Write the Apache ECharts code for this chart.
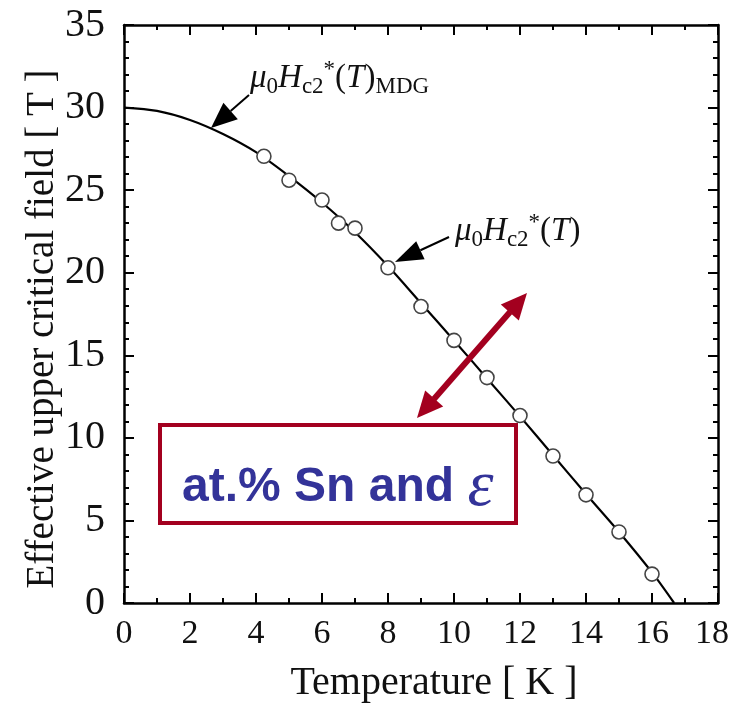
<!DOCTYPE html>
<html>
<head>
<meta charset="utf-8">
<script src="https://cdn.jsdelivr.net/npm/echarts@6/dist/echarts.min.js"></script>
<style>html,body{margin:0;padding:0;background:#fff}#c{width:740px;height:715px}</style>
</head>
<body>
<div id="c"></div>
<script>
// ---- data ----
var curveT = [0, 1, 2, 3, 4, 5, 6, 7, 8, 9, 10, 11, 12, 13, 14, 15, 16, 16.67];
var curveB = [30.0, 29.8, 29.25, 28.4, 27.3, 25.85, 24.25, 22.45, 20.4, 18.15, 15.9, 13.6, 11.3, 8.95, 6.6, 4.3, 1.85, 0];
var pointT = [4.24, 5.0, 6.0, 6.5, 7.0, 8.0, 9.0, 10.0, 11.0, 12.0, 13.0, 14.0, 15.0, 16.0];
var pointB = [27.05, 25.6, 24.4, 23.0, 22.7, 20.3, 17.95, 15.9, 13.65, 11.35, 8.9, 6.55, 4.3, 1.75];
var xTicks = [0, 2, 4, 6, 8, 10, 12, 14, 16, 18];
var yTicks = [0, 5, 10, 15, 20, 25, 30, 35];
var xTitle = 'Temperature [ K ]';
var yTitle = 'Effective upper critical field [ T ]';
var boxText = 'at.% Sn and ';
var epsText = 'ε';

var serif = '"Liberation Serif","Times New Roman",serif';
var chart = echarts.init(document.getElementById('c'));

function arrowShapes(tip, tail, headLen, headHalf, lw, color) {
  var dx = tail[0] - tip[0], dy = tail[1] - tip[1];
  var L = Math.sqrt(dx * dx + dy * dy); var ux = dx / L, uy = dy / L;
  var px = -uy, py = ux;
  var bx = tip[0] + ux * headLen, by = tip[1] + uy * headLen;
  return [
    {type: 'line', shape: {x1: bx, y1: by, x2: tail[0], y2: tail[1]}, style: {stroke: color, lineWidth: lw}},
    {type: 'polygon', shape: {points: [tip, [bx + px * headHalf, by + py * headHalf], [bx - px * headHalf, by - py * headHalf]]}, style: {fill: color}}
  ];
}

function axisBase(extra) {
  var base = {
    min: 0,
    axisLine: {show: true, onZero: false, lineStyle: {color: '#000', width: 2.5}},
    axisTick: {show: true, inside: true, length: 10, lineStyle: {color: '#000', width: 2}},
    minorTick: {show: true, length: 5, lineStyle: {color: '#000', width: 2}},
    splitLine: {show: false},
    minorSplitLine: {show: false}
  };
  return Object.assign(base, extra);
}

var xData = [];
for (var i = 0; i < curveT.length; i++) xData.push([curveT[i], curveB[i]]);
var pData = [];
for (var j = 0; j < pointT.length; j++) pData.push([pointT[j], pointB[j]]);

var richLabel = {
  it: {fontFamily: serif, fontStyle: 'italic', fontSize: 33, fill: '#111', lineHeight: 40, verticalAlign: 'middle'},
  rm: {fontFamily: serif, fontSize: 33, fill: '#111', lineHeight: 40, verticalAlign: 'middle'},
  sub: {fontFamily: serif, fontSize: 23, fill: '#111', lineHeight: 19, verticalAlign: 'bottom'},
  sup: {fontFamily: serif, fontSize: 23, fill: '#111', lineHeight: 19, verticalAlign: 'top'}
};

var option = {
  animation: false,
  backgroundColor: '#fff',
  grid: {left: 124, right: 22, top: 25, bottom: 112, containLabel: false},
  xAxis: [
    axisBase({
      type: 'value', max: 18, interval: 2, position: 'bottom',
      minorTick: {show: true, splitNumber: 2, length: 5, lineStyle: {color: '#000', width: 2}},
      axisLabel: {show: true, margin: 14, color: '#111', fontFamily: serif, fontSize: 34,
        formatter: function (v) { return xTicks.indexOf(v) >= 0 ? (v === 18 ? '{e|18}' : String(v)) : ''; },
        rich: {e: {fontFamily: serif, fontSize: 34, color: '#111', padding: [0, 12, 0, 0]}}},
      name: xTitle, nameLocation: 'middle', nameGap: 60, nameMoveOverlap: false,
      nameTextStyle: {color: '#111', fontFamily: serif, fontSize: 40, padding: [0, 0, 0, 26]}
    }),
    axisBase({
      type: 'value', max: 18, interval: 2, position: 'top',
      minorTick: {show: true, splitNumber: 2, length: 5, lineStyle: {color: '#000', width: 2}},
      axisLabel: {show: false}
    })
  ],
  yAxis: [
    axisBase({
      type: 'value', max: 35, interval: 5, position: 'left',
      minorTick: {show: true, splitNumber: 5, length: 5, lineStyle: {color: '#000', width: 2}},
      axisLabel: {show: true, margin: 19, color: '#111', fontFamily: serif, fontSize: 40,
        formatter: function (v) { return yTicks.indexOf(v) >= 0 ? String(v) : ''; }},
      name: yTitle, nameLocation: 'middle', nameGap: 62, nameRotate: 90, nameMoveOverlap: false,
      nameTextStyle: {color: '#111', fontFamily: serif, fontSize: 39, padding: [0, 30, 0, 0]}
    }),
    axisBase({
      type: 'value', max: 35, interval: 5, position: 'right',
      minorTick: {show: true, splitNumber: 5, length: 5, lineStyle: {color: '#000', width: 2}},
      axisLabel: {show: false}
    })
  ],
  series: [
    {type: 'line', data: xData, smooth: 0.3, showSymbol: false, symbol: 'none',
      lineStyle: {color: '#000', width: 2.2}, z: 2},
    {type: 'scatter', data: pData, symbol: 'circle', symbolSize: 14,
      itemStyle: {color: '#fff', opacity: 1, borderColor: '#444', borderWidth: 1.6}, z: 3}
  ],
  graphic: [].concat(
    arrowShapes([211, 128], [249, 95], 26, 11, 2, '#000'),
    arrowShapes([395, 262], [449, 237], 28, 10, 2, '#000'),
    [
      {type: 'text', left: 250, top: 58, style: {rich: richLabel,
        text: '{it|μ}{sub|0}{it|H}{sub|c2}{sup|*}{rm|(}{it|T}{rm|)}{sub|MDG}'}},
      {type: 'text', left: 455, top: 211, style: {rich: richLabel,
        text: '{it|μ}{sub|0}{it|H}{sub|c2}{sup|*}{rm|(}{it|T}{rm|)}'}},
      {type: 'rect', shape: {x: 160, y: 425, width: 356, height: 98},
        style: {fill: '#fff', stroke: '#a3001f', lineWidth: 4}, z: 10},
      {type: 'text', left: 182, top: 455, z: 11, style: {
        rich: {
          b: {fontFamily: '"Liberation Sans",Arial,sans-serif', fontWeight: 'bold', fontSize: 48, fill: '#333399', lineHeight: 54},
          e: {fontFamily: serif, fontStyle: 'italic', fontSize: 66, fill: '#333399', lineHeight: 54}
        },
        text: '{b|' + boxText + '}{e|' + epsText + '}'
      }}
    ],
    (function () {
      var a = arrowShapes([527, 293], [417, 418], 26, 12, 6, '#a3001f');
      var b = arrowShapes([417, 418], [527, 293], 26, 12, 6, '#a3001f');
      var ln = {type: 'line', shape: {x1: 527 - 17, y1: 293 + 19, x2: 417 + 17, y2: 418 - 19}, style: {stroke: '#a3001f', lineWidth: 6}, z: 12};
      return [ln, Object.assign(a[1], {z: 12}), Object.assign(b[1], {z: 12})];
    })()
  )
};
chart.setOption(option);
</script>
</body>
</html>
